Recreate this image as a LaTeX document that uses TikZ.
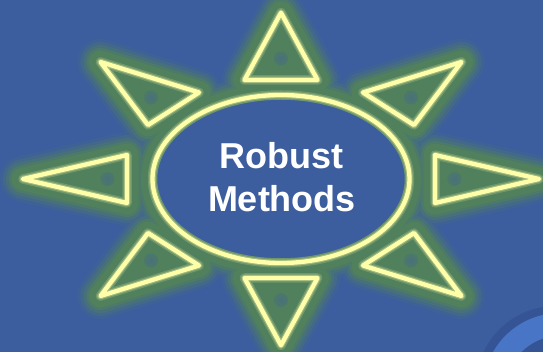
\documentclass[tikz,border=0pt]{standalone}
\usepackage{fontspec}
\setmainfont{Liberation Sans}
\definecolor{bgblue}{RGB}{61,94,158}
\definecolor{glowgreen}{RGB}{80,128,92}
\definecolor{linecol}{RGB}{255,255,170}
\definecolor{ringblue}{RGB}{72,117,198}
\definecolor{ringdark}{RGB}{52,84,150}
\pgfdeclareradialshading{ellglow}{\pgfpoint{0bp}{0bp}}{color(0bp)=(bgblue); color(34bp)=(bgblue); color(46bp)=(glowgreen); color(50bp)=(glowgreen); color(100bp)=(glowgreen)}
\pgfdeclareradialshading{dotglow}{\pgfpoint{0bp}{0bp}}{color(0bp)=(bgblue!45!glowgreen); color(50bp)=(glowgreen); color(100bp)=(glowgreen)}
\newcommand\mysunshapes[1]{%
  \path[#1] (281,179) ellipse [x radius=128.5, y radius=84];
  \path[#1] (t1)--(t2)--(t3)--cycle;
  \path[#1] (b1)--(b2)--(b3)--cycle;
  \path[#1] (l1)--(l2)--(l3)--cycle;
  \path[#1] (r1)--(r2)--(r3)--cycle;
  \path[#1] (ul1)--(ul2)--(ul3)--cycle;
  \path[#1] (ur1)--(ur2)--(ur3)--cycle;
  \path[#1] (ll1)--(ll2)--(ll3)--cycle;
  \path[#1] (lr1)--(lr2)--(lr3)--cycle;
}
\tikzset{
  glowlayer/.style={draw=#1, fill=glowgreen, line join=round, line cap=round},
  sunline/.style={draw=linecol, line width=4.3pt, line join=round, line cap=round},
  dotspot/.style={shading=dotglow},
  labeltext/.style={text=white, font=\bfseries\fontsize{36}{44}\selectfont, anchor=base, inner sep=0pt}
}
\begin{document}
\begin{tikzpicture}[x=1pt,y=-1pt]
\useasboundingbox (0,0) rectangle (543,352);
\fill[bgblue] (0,0) rectangle (543,352);
% corner ring
\begin{scope}
\clip (0,0) rectangle (543,352);
\fill[ringdark] (556,386) circle [radius=80];
\fill[ringblue] (560,390) circle [radius=77];
\fill[ringdark] (560,390) circle [radius=54];
\end{scope}
% coordinates
\coordinate (t1) at (281,12.7);  \coordinate (t2) at (244.5,80);  \coordinate (t3) at (317.5,80);
\coordinate (b1) at (281,345.3); \coordinate (b2) at (244.5,278); \coordinate (b3) at (317.5,278);
\coordinate (l1) at (23,179);    \coordinate (l2) at (127,155);   \coordinate (l3) at (127,203);
\coordinate (r1) at (539,179);   \coordinate (r2) at (435,155);   \coordinate (r3) at (435,203);
\coordinate (ul1) at (100.5,62); \coordinate (ul2) at (199,92.5); \coordinate (ul3) at (148,125);
\coordinate (ur1) at (461.5,62); \coordinate (ur2) at (363,92.5); \coordinate (ur3) at (414,125);
\coordinate (ll1) at (100.5,296);\coordinate (ll2) at (199,265.5);\coordinate (ll3) at (148,233);
\coordinate (lr1) at (461.5,296);\coordinate (lr2) at (363,265.5);\coordinate (lr3) at (414,233);
% glow layers
\mysunshapes{glowlayer=glowgreen!12!bgblue, line width=46pt}
\mysunshapes{glowlayer=glowgreen!30!bgblue, line width=40pt}
\mysunshapes{glowlayer=glowgreen!55!bgblue, line width=34pt}
\mysunshapes{glowlayer=glowgreen!80!bgblue, line width=28pt}
\mysunshapes{glowlayer=glowgreen, line width=23pt}
% ellipse interior
\shade[shading=ellglow] (281,179) ellipse [x radius=127, y radius=82.5];
% soft spots at triangle centres
\foreach \p in {(281,58.5),(281,300),(107.5,179),(454.5,179),(151,97.5),(411,97.5),(151,260.5),(411,260.5)}
  \shade[dotspot] \p circle [radius=7];
% halo
\mysunshapes{draw=linecol!18!glowgreen, line width=9.5pt, line join=round, line cap=round}
\mysunshapes{draw=linecol!45!glowgreen, line width=6.5pt, line join=round, line cap=round}
% lines
\mysunshapes{sunline}
% text
\node[labeltext] (robust) at (281.5,168.3) {Robust};
\node[labeltext] (methods) at (282,211.7) {Methods};
\end{tikzpicture}
\end{document}
